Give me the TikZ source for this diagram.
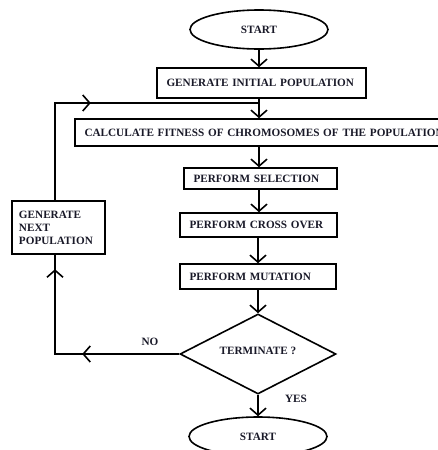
\documentclass[tikz,border=0pt]{standalone}
\usepackage{fontspec}
\setmainfont{Liberation Serif}
\usetikzlibrary{shapes.geometric,arrows.meta,decorations.markings}
\definecolor{txtc}{RGB}{25,25,40}
\begin{document}
\begin{tikzpicture}[x=1pt,y=-1pt,
  every node/.style={font=\fontsize{11.2}{13}\selectfont\bfseries, text=txtc},
  lw/.style={line width=1.6pt},
  box/.style={draw, lw, inner xsep=9.5pt, inner ysep=0pt, align=left},
  oval/.style={draw, lw, ellipse, minimum width=138pt, minimum height=39pt, inner sep=0pt},
  arr/.style={lw, -{Straight Barb[length=7pt,width=16pt,line width=1.6pt]}},
  midarr/.style={lw, postaction={decorate}, decoration={markings,
     mark=at position #1 with {\arrow{Straight Barb[length=7pt,width=16pt,line width=1.6pt]}}}}
]
\useasboundingbox (0,0) rectangle (438,450);
\node[oval] (start) at (259,29.5) {START};
\node[box, minimum height=30pt, text width=190pt] (init) at (261.5,83) {GENERATE INITIAL POPULATION};
\node[box, minimum height=27pt, text width=351pt] (calc) at (260,132.5) {\mbox{CALCULATE FITNESS OF CHROMOSOMES OF THE POPULATION}};
\node[box, minimum height=21pt, text width=134pt] (sel) at (260.5,178.5) {PERFORM SELECTION};
\node[box, minimum height=24pt, text width=138pt] (cross) at (258.5,225) {PERFORM CROSS OVER};
\node[box, minimum height=25pt, text width=137pt] (mut) at (258,276.5) {PERFORM MUTATION};
\node[draw, lw, diamond, minimum width=156pt, minimum height=80pt, aspect=2, inner sep=0pt] (term) at (258,354) {\raisebox{6pt}{TERMINATE ?}};
\node[oval] (stop) at (258,436.5) {START};
\node[draw, lw, inner xsep=7pt, inner ysep=0pt, minimum height=53pt, text width=79pt, align=left] (next) at (58.5,227.5) {GENERATE\\NEXT\\POPULATION};
\node (no) at (150,342) {NO};
\node (yes) at (296,399) {YES};

\coordinate (bl) at (55,354);
\coordinate (tl) at (55,103);
\coordinate (join) at (259,103);

\draw[arr] (start.south -| 259,0) -- (init.north -| 259,0);
\draw[arr] (init.south -| 259,0) -- (calc.north -| 259,0);
\draw[arr] (calc.south -| 259,0) -- (sel.north -| 259,0);
\draw[arr] (sel.south -| 259,0) -- (cross.north -| 259,0);
\draw[arr] (cross.south -| 258,0) -- (mut.north -| 258,0);
\draw[arr] (mut.south -| 258,0) -- (term.north);
\draw[arr] (term.south) -- (stop.north);
\draw[midarr=97pt] (term.west) -- (bl) -- (next.south -| bl);
\draw[midarr=209pt, line join=miter] (term.west) -- (bl) -- (next.south -| bl);
\draw[midarr=133pt, line join=miter] (next.north -| tl) -- (tl) -- (join);
\end{tikzpicture}
\end{document}
